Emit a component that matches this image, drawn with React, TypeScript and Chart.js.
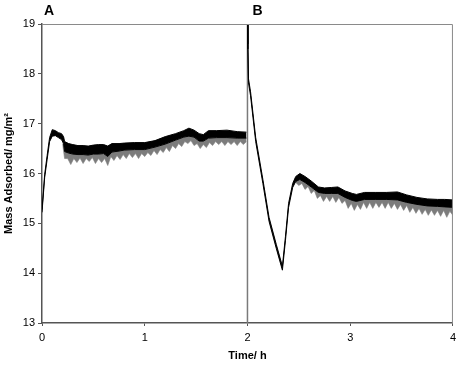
import React, { useEffect, useRef } from "react";
import { Chart, registerables } from "chart.js";

Chart.register(...registerables);

// Segment A (0–2 h): dark band envelope
const timeA = [0, 0.026, 0.05, 0.074, 0.10, 0.13, 0.16, 0.19, 0.21, 0.22, 0.26, 0.30, 0.35, 0.40, 0.45, 0.50, 0.55, 0.60, 0.64, 0.68, 0.75, 0.80, 0.90, 1.00, 1.10, 1.20, 1.30, 1.38, 1.43, 1.48, 1.53, 1.57, 1.62, 1.70, 1.80, 1.90, 1.99];
const upperA = [15.28, 15.98, 16.36, 16.72, 16.88, 16.86, 16.82, 16.80, 16.74, 16.64, 16.60, 16.58, 16.56, 16.56, 16.55, 16.57, 16.58, 16.58, 16.55, 16.60, 16.60, 16.61, 16.62, 16.62, 16.66, 16.74, 16.80, 16.86, 16.91, 16.87, 16.80, 16.78, 16.86, 16.86, 16.87, 16.84, 16.83];
const lowerA = [15.22, 15.92, 16.28, 16.64, 16.75, 16.76, 16.72, 16.68, 16.60, 16.44, 16.41, 16.39, 16.38, 16.38, 16.37, 16.39, 16.39, 16.40, 16.34, 16.43, 16.45, 16.47, 16.48, 16.48, 16.53, 16.59, 16.67, 16.73, 16.75, 16.73, 16.65, 16.65, 16.71, 16.72, 16.72, 16.71, 16.71];
// Segment A: grey downward noise spikes
const timeFA = [0.20, 0.22, 0.25, 0.28, 0.31, 0.34, 0.37, 0.40, 0.43, 0.46, 0.49, 0.52, 0.55, 0.58, 0.61, 0.64, 0.67, 0.70, 0.73, 0.76, 0.79, 0.82, 0.85, 0.88, 0.91, 0.94, 0.97, 1.00, 1.03, 1.06, 1.09, 1.12, 1.15, 1.18, 1.21, 1.24, 1.27, 1.30, 1.33, 1.36, 1.39, 1.42, 1.45, 1.48, 1.51, 1.54, 1.57, 1.60, 1.63, 1.66, 1.69, 1.72, 1.75, 1.78, 1.81, 1.84, 1.87, 1.90, 1.93, 1.96, 1.99];
const fringeA = [16.60, 16.30, 16.30, 16.18, 16.30, 16.22, 16.31, 16.20, 16.30, 16.24, 16.32, 16.20, 16.30, 16.22, 16.30, 16.16, 16.34, 16.26, 16.36, 16.28, 16.38, 16.30, 16.40, 16.32, 16.40, 16.30, 16.40, 16.34, 16.42, 16.36, 16.46, 16.38, 16.48, 16.42, 16.52, 16.44, 16.56, 16.50, 16.60, 16.54, 16.64, 16.60, 16.66, 16.56, 16.60, 16.50, 16.58, 16.52, 16.62, 16.56, 16.64, 16.58, 16.64, 16.56, 16.64, 16.58, 16.64, 16.56, 16.64, 16.58, 16.64];

// Segment B (2–4 h)
const timeB = [2.0, 2.004, 2.01, 2.03, 2.08, 2.15, 2.21, 2.28, 2.34, 2.37, 2.40, 2.44, 2.47, 2.51, 2.56, 2.62, 2.69, 2.75, 2.82, 2.88, 2.95, 3.02, 3.06, 3.14, 3.25, 3.35, 3.46, 3.55, 3.65, 3.75, 3.85, 3.92, 4.0];
const upperB = [19.3, 18.6, 17.9, 17.64, 16.72, 15.88, 15.12, 14.58, 14.14, 14.74, 15.40, 15.80, 15.94, 16.00, 15.94, 15.85, 15.73, 15.71, 15.72, 15.73, 15.65, 15.60, 15.58, 15.62, 15.62, 15.62, 15.63, 15.57, 15.52, 15.49, 15.48, 15.48, 15.47];
const lowerB = [19.3, 18.5, 17.82, 17.56, 16.64, 15.80, 15.04, 14.50, 14.06, 14.66, 15.32, 15.72, 15.84, 15.88, 15.82, 15.73, 15.62, 15.60, 15.60, 15.60, 15.52, 15.46, 15.44, 15.48, 15.48, 15.48, 15.47, 15.42, 15.38, 15.35, 15.34, 15.33, 15.32];
const timeFB = [2.47, 2.50, 2.53, 2.56, 2.59, 2.62, 2.65, 2.68, 2.71, 2.74, 2.77, 2.80, 2.83, 2.86, 2.89, 2.92, 2.95, 2.98, 3.01, 3.04, 3.07, 3.10, 3.13, 3.16, 3.19, 3.22, 3.25, 3.28, 3.31, 3.34, 3.37, 3.40, 3.43, 3.46, 3.49, 3.52, 3.55, 3.58, 3.61, 3.64, 3.67, 3.70, 3.73, 3.76, 3.79, 3.82, 3.85, 3.88, 3.91, 3.94, 3.97, 4.00];
const fringeB = [15.82, 15.76, 15.80, 15.68, 15.74, 15.60, 15.66, 15.50, 15.56, 15.44, 15.54, 15.44, 15.54, 15.42, 15.52, 15.40, 15.46, 15.30, 15.40, 15.26, 15.38, 15.28, 15.42, 15.30, 15.42, 15.30, 15.42, 15.32, 15.42, 15.30, 15.42, 15.30, 15.40, 15.28, 15.38, 15.26, 15.36, 15.22, 15.32, 15.20, 15.30, 15.18, 15.28, 15.16, 15.27, 15.16, 15.26, 15.14, 15.26, 15.12, 15.24, 15.16];

const dividerTime = 2;
const yMin = 13;
const yMax = 19;
const xMin = 0;
const xMax = 4;
const panelLabels = ["A", "B"];
const panelStarts = [0, 2];
const xTitle = "Time/ h";
const yTitle = "Mass Adsorbed/ mg/m\u00B2";

const pts = (t: number[], v: number[]) => t.map((x, i) => ({ x, y: v[i] }));

export default function App() {
  const ref = useRef<HTMLCanvasElement | null>(null);

  useEffect(() => {
    document.body.style.margin = "0";
    const canvas = ref.current;
    if (!canvas) return;
    Chart.defaults.font.family = "'Liberation Sans', Arial, sans-serif";
    Chart.defaults.color = "#000";

    const line = (data: any[], extra: any) => ({
      data,
      borderColor: "#000",
      borderWidth: 1,
      pointRadius: 0,
      tension: 0,
      fill: false,
      ...extra,
    });

    const extras = {
      id: "extras",
      afterDraw(chart: any) {
        const { ctx, chartArea, scales } = chart;
        ctx.save();
        ctx.strokeStyle = "#8a8a8a";
        ctx.lineWidth = 1;
        ctx.beginPath();
        ctx.moveTo(chartArea.left, chartArea.top + 0.5);
        ctx.lineTo(chartArea.right - 0.5, chartArea.top + 0.5);
        ctx.lineTo(chartArea.right - 0.5, chartArea.bottom);
        ctx.stroke();
        ctx.fillStyle = "#000";
        ctx.font = "bold 14px 'Liberation Sans', Arial, sans-serif";
        ctx.textBaseline = "middle";
        ctx.textAlign = "left";
        panelLabels.forEach((lab, i) => {
          const x = scales.x.getPixelForValue(panelStarts[i]);
          ctx.fillText(lab, x + (i === 0 ? 2 : 5), 11);
        });
        ctx.restore();
      },
    };

    const grey = "#7c7c7c";

    const chart = new Chart(canvas, {
      type: "line",
      data: {
        datasets: [
          line(pts(timeA, upperA), {}),
          line(pts(timeA, lowerA), { fill: "-1", backgroundColor: "#000" }),
          line(pts(timeFA, fringeA), { fill: "-1", backgroundColor: grey, borderColor: grey, borderWidth: 0.6 }),
          line(pts(timeB, upperB), {}),
          line(pts(timeB, lowerB), { fill: "-1", backgroundColor: "#000" }),
          line(pts(timeFB, fringeB), { fill: "-1", backgroundColor: grey, borderColor: grey, borderWidth: 0.6 }),
          line(
            [
              { x: dividerTime, y: yMin },
              { x: dividerTime, y: yMax },
            ],
            { borderColor: "#7a7a7a", borderWidth: 1.5 }
          ),
        ],
      },
      plugins: [extras],
      options: {
        responsive: false,
        animation: false,
        layout: { padding: { top: 24, right: 1, left: 0, bottom: 0 } },
        plugins: {
          legend: { display: false },
          tooltip: { enabled: false },
        },
        scales: {
          x: {
            type: "linear",
            min: xMin,
            max: xMax,
            afterFit: (s: any) => {
              s.height = 43;
            },
            border: { color: "#555", width: 1.5 },
            grid: { drawOnChartArea: false, drawTicks: true, tickLength: 3, color: "#555" },
            ticks: { stepSize: 1, padding: 5, font: { size: 11 }, color: "#000" },
            title: {
              display: true,
              text: xTitle,
              font: { size: 11, weight: "bold" },
              color: "#000",
              padding: { top: 0, bottom: 3 },
            },
          },
          y: {
            type: "linear",
            min: yMin,
            max: yMax,
            afterFit: (s: any) => {
              s.width = 42;
            },
            border: { color: "#555", width: 1.5 },
            grid: { drawOnChartArea: false, drawTicks: true, tickLength: 4, color: "#555" },
            ticks: { stepSize: 1, padding: 3, font: { size: 11 }, color: "#000" },
            title: {
              display: true,
              text: yTitle,
              font: { size: 11, weight: "bold" },
              color: "#000",
              padding: { top: 2, bottom: 0 },
            },
          },
        },
      },
    } as any);

    return () => chart.destroy();
  }, []);

  return (
    <div style={{ width: 461, height: 366 }}>
      <canvas ref={ref} width={461} height={366} style={{ display: "block" }} />
    </div>
  );
}
